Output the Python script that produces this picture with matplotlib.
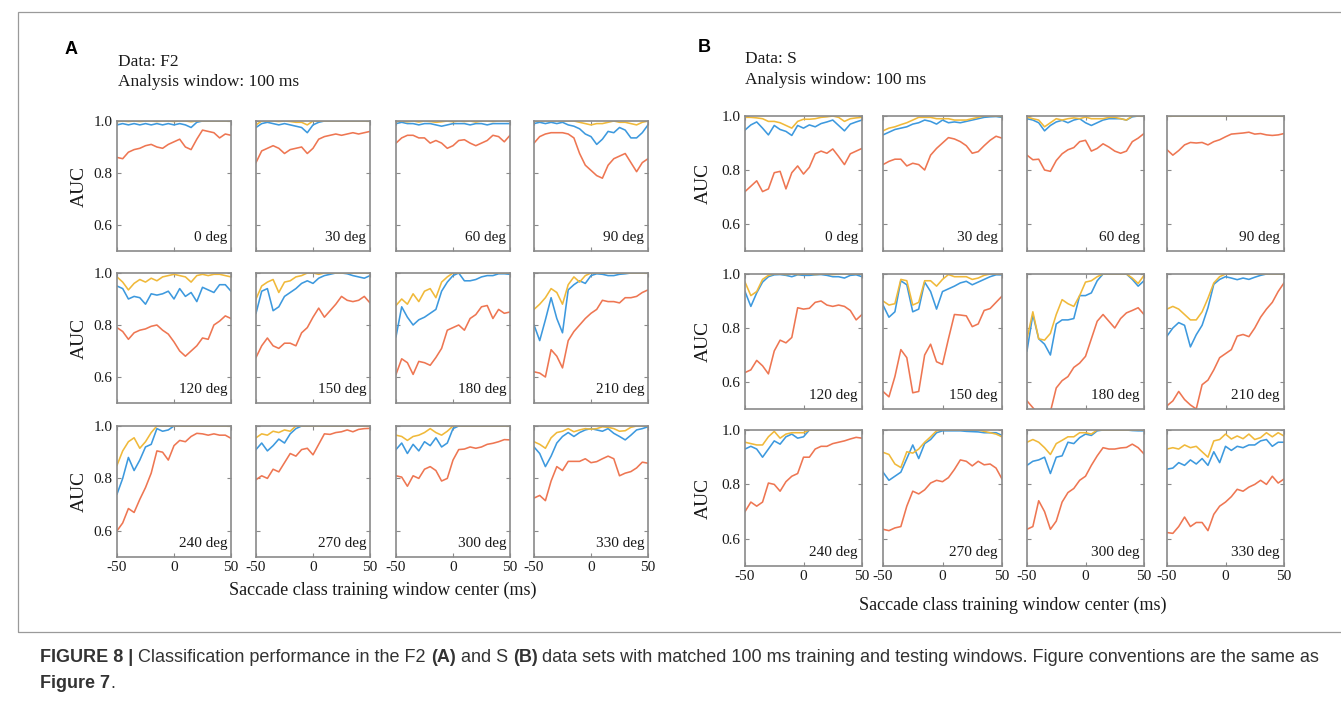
import matplotlib
matplotlib.use('Agg')
import matplotlib.pyplot as plt
from matplotlib.patches import Rectangle

plt.rcParams['font.family'] = ['Liberation Serif', 'DejaVu Serif']

# window centres (ms)
t_ms = [-50, -45, -40, -35, -30, -25, -20, -15, -10, -5, 0,
        5, 10, 15, 20, 25, 30, 35, 40, 45, 50]
angles = [0, 30, 60, 90, 120, 150, 180, 210, 240, 270, 300, 330]

# ---- panel A, data F2 (one row per angle) ----
f2_orange = [
    [0.86, 0.855, 0.88, 0.89, 0.895, 0.905, 0.91, 0.90, 0.895, 0.91, 0.92, 0.93, 0.90, 0.89, 0.93, 0.965, 0.96, 0.955, 0.935, 0.95, 0.945],
    [0.84, 0.885, 0.895, 0.905, 0.895, 0.875, 0.89, 0.895, 0.90, 0.875, 0.895, 0.93, 0.94, 0.945, 0.95, 0.945, 0.95, 0.955, 0.95, 0.955, 0.96],
    [0.915, 0.935, 0.945, 0.945, 0.935, 0.935, 0.915, 0.925, 0.915, 0.895, 0.905, 0.925, 0.928, 0.915, 0.905, 0.915, 0.925, 0.945, 0.94, 0.92, 0.945],
    [0.915, 0.94, 0.95, 0.955, 0.955, 0.955, 0.95, 0.935, 0.875, 0.83, 0.81, 0.79, 0.78, 0.83, 0.855, 0.865, 0.875, 0.84, 0.805, 0.84, 0.855],
    [0.79, 0.775, 0.745, 0.77, 0.78, 0.785, 0.795, 0.80, 0.78, 0.765, 0.735, 0.70, 0.68, 0.70, 0.72, 0.75, 0.745, 0.80, 0.815, 0.835, 0.825],
    [0.675, 0.72, 0.75, 0.72, 0.71, 0.73, 0.73, 0.72, 0.77, 0.79, 0.83, 0.865, 0.83, 0.855, 0.88, 0.91, 0.895, 0.89, 0.895, 0.91, 0.885],
    [0.61, 0.67, 0.655, 0.61, 0.66, 0.655, 0.645, 0.675, 0.71, 0.78, 0.79, 0.80, 0.78, 0.825, 0.84, 0.87, 0.875, 0.825, 0.86, 0.845, 0.85],
    [0.62, 0.615, 0.60, 0.705, 0.68, 0.635, 0.74, 0.775, 0.80, 0.825, 0.845, 0.86, 0.895, 0.89, 0.89, 0.885, 0.905, 0.905, 0.91, 0.925, 0.935],
    [0.60, 0.63, 0.685, 0.67, 0.72, 0.765, 0.82, 0.905, 0.90, 0.87, 0.925, 0.945, 0.94, 0.96, 0.972, 0.97, 0.965, 0.97, 0.965, 0.965, 0.953],
    [0.795, 0.81, 0.80, 0.835, 0.825, 0.86, 0.895, 0.885, 0.91, 0.915, 0.89, 0.93, 0.97, 0.968, 0.975, 0.978, 0.985, 0.978, 0.987, 0.99, 0.991],
    [0.81, 0.805, 0.77, 0.81, 0.80, 0.835, 0.845, 0.83, 0.79, 0.80, 0.87, 0.91, 0.912, 0.92, 0.915, 0.92, 0.93, 0.934, 0.94, 0.948, 0.947],
    [0.725, 0.735, 0.715, 0.79, 0.845, 0.83, 0.865, 0.865, 0.865, 0.875, 0.86, 0.864, 0.875, 0.885, 0.875, 0.81, 0.82, 0.826, 0.84, 0.862, 0.858],
]
f2_blue = [
    [0.985, 0.99, 0.985, 0.99, 0.985, 0.99, 0.985, 0.99, 0.985, 0.99, 0.985, 0.99, 0.985, 0.975, 0.995, 1.0, 1.0, 1.0, 1.0, 1.0, 1.0],
    [0.975, 0.99, 0.995, 0.99, 0.985, 0.99, 0.985, 0.98, 0.975, 0.955, 0.985, 0.995, 1.0, 1.0, 1.0, 1.0, 1.0, 1.0, 1.0, 1.0, 1.0],
    [0.99, 0.995, 0.99, 0.99, 0.985, 0.99, 0.99, 0.985, 0.98, 0.985, 0.99, 0.99, 0.99, 0.985, 0.99, 0.99, 0.985, 0.99, 0.99, 0.99, 0.99],
    [0.99, 0.995, 0.99, 0.995, 0.99, 0.995, 0.985, 0.98, 0.97, 0.95, 0.94, 0.91, 0.93, 0.96, 0.955, 0.975, 0.965, 0.935, 0.935, 0.955, 0.985],
    [0.95, 0.94, 0.90, 0.91, 0.905, 0.88, 0.92, 0.915, 0.92, 0.93, 0.90, 0.94, 0.91, 0.925, 0.89, 0.945, 0.935, 0.925, 0.955, 0.955, 0.93],
    [0.845, 0.93, 0.94, 0.855, 0.87, 0.91, 0.925, 0.94, 0.96, 0.97, 0.96, 0.98, 0.99, 0.995, 1.0, 1.0, 0.997, 0.99, 0.985, 0.98, 0.99],
    [0.755, 0.87, 0.83, 0.80, 0.82, 0.83, 0.845, 0.86, 0.93, 0.965, 0.99, 1.0, 0.97, 0.97, 0.975, 0.985, 0.99, 0.99, 0.997, 0.997, 0.995],
    [0.80, 0.74, 0.82, 0.905, 0.825, 0.77, 0.935, 0.955, 0.97, 0.96, 0.99, 0.997, 0.995, 0.99, 0.99, 0.995, 0.997, 1.0, 1.0, 1.0, 1.0],
    [0.74, 0.80, 0.88, 0.83, 0.87, 0.92, 0.93, 0.99, 0.98, 0.985, 1.0, 1.0, 1.0, 1.0, 1.0, 1.0, 1.0, 1.0, 1.0, 1.0, 1.0],
    [0.91, 0.935, 0.905, 0.925, 0.95, 0.935, 0.97, 0.99, 1.0, 1.0, 1.0, 1.0, 1.0, 1.0, 1.0, 1.0, 1.0, 1.0, 1.0, 1.0, 1.0],
    [0.91, 0.935, 0.895, 0.93, 0.905, 0.94, 0.925, 0.955, 0.92, 0.935, 0.99, 1.0, 1.0, 1.0, 1.0, 1.0, 1.0, 1.0, 1.0, 1.0, 1.0],
    [0.92, 0.895, 0.845, 0.885, 0.935, 0.96, 0.975, 0.96, 0.975, 0.985, 0.99, 0.985, 0.98, 0.99, 0.972, 0.96, 0.947, 0.965, 0.985, 0.99, 0.997],
]
f2_yellow = [
    [0.998, 1.0, 0.998, 1.0, 0.998, 1.0, 1.0, 0.998, 1.0, 1.0, 0.998, 1.0, 1.0, 0.997, 1.0, 1.0, 1.0, 1.0, 1.0, 1.0, 1.0],
    [0.985, 1.0, 1.0, 1.0, 0.998, 1.0, 0.998, 0.995, 0.995, 0.985, 1.0, 1.0, 1.0, 1.0, 1.0, 1.0, 1.0, 1.0, 1.0, 1.0, 1.0],
    [0.998, 1.0, 0.997, 1.0, 0.996, 1.0, 0.998, 0.995, 0.997, 1.0, 0.997, 1.0, 0.998, 1.0, 0.996, 1.0, 1.0, 0.998, 1.0, 1.0, 1.0],
    [1.0, 1.0, 1.0, 1.0, 1.0, 1.0, 1.0, 1.0, 0.995, 0.99, 0.985, 0.99, 0.99, 0.995, 1.0, 0.995, 0.995, 0.99, 0.985, 0.995, 1.0],
    [0.985, 0.965, 0.935, 0.96, 0.975, 0.965, 0.98, 0.97, 0.985, 0.99, 0.995, 0.99, 0.985, 0.965, 0.99, 0.995, 0.99, 0.995, 0.995, 0.99, 0.985],
    [0.90, 0.95, 0.965, 0.975, 0.925, 0.965, 0.97, 0.985, 0.99, 1.0, 1.0, 0.995, 1.0, 1.0, 1.0, 1.0, 1.0, 1.0, 1.0, 1.0, 1.0],
    [0.875, 0.90, 0.88, 0.92, 0.89, 0.93, 0.94, 0.905, 0.965, 0.985, 1.0, 1.0, 1.0, 1.0, 1.0, 1.0, 1.0, 1.0, 1.0, 1.0, 1.0],
    [0.86, 0.88, 0.905, 0.94, 0.925, 0.88, 0.955, 0.985, 0.965, 0.99, 1.0, 1.0, 1.0, 1.0, 1.0, 1.0, 1.0, 1.0, 1.0, 1.0, 1.0],
    [0.85, 0.905, 0.94, 0.955, 0.915, 0.94, 0.975, 1.0, 1.0, 1.0, 1.0, 1.0, 1.0, 1.0, 1.0, 1.0, 1.0, 1.0, 1.0, 1.0, 1.0],
    [0.955, 0.97, 0.965, 0.98, 0.975, 0.985, 0.98, 1.0, 1.0, 1.0, 1.0, 1.0, 1.0, 1.0, 1.0, 1.0, 1.0, 1.0, 1.0, 1.0, 1.0],
    [0.965, 0.96, 0.945, 0.96, 0.965, 0.975, 0.99, 0.975, 0.965, 0.98, 1.0, 1.0, 1.0, 1.0, 1.0, 1.0, 1.0, 1.0, 1.0, 1.0, 1.0],
    [0.94, 0.93, 0.915, 0.955, 0.975, 0.98, 0.99, 0.978, 0.985, 0.99, 0.988, 0.99, 0.997, 0.995, 0.99, 0.98, 0.982, 0.995, 1.0, 1.0, 1.0],
]

# ---- panel B, data S ----
s_orange = [
    [0.72, 0.74, 0.76, 0.72, 0.73, 0.79, 0.795, 0.73, 0.79, 0.815, 0.785, 0.81, 0.86, 0.87, 0.862, 0.878, 0.85, 0.82, 0.86, 0.87, 0.88],
    [0.82, 0.832, 0.84, 0.84, 0.815, 0.825, 0.82, 0.80, 0.855, 0.88, 0.90, 0.92, 0.915, 0.905, 0.89, 0.862, 0.868, 0.89, 0.91, 0.925, 0.918],
    [0.855, 0.838, 0.84, 0.80, 0.795, 0.835, 0.86, 0.875, 0.883, 0.905, 0.91, 0.87, 0.88, 0.897, 0.885, 0.87, 0.862, 0.87, 0.905, 0.918, 0.935],
    [0.875, 0.855, 0.872, 0.893, 0.902, 0.90, 0.902, 0.893, 0.905, 0.912, 0.923, 0.933, 0.935, 0.937, 0.94, 0.933, 0.935, 0.93, 0.928, 0.93, 0.935],
    [0.635, 0.645, 0.68, 0.66, 0.63, 0.715, 0.755, 0.745, 0.765, 0.875, 0.87, 0.873, 0.895, 0.90, 0.885, 0.88, 0.885, 0.88, 0.865, 0.83, 0.85],
    [0.565, 0.545, 0.62, 0.72, 0.69, 0.56, 0.565, 0.70, 0.74, 0.675, 0.665, 0.76, 0.85, 0.848, 0.845, 0.805, 0.815, 0.865, 0.872, 0.895, 0.918],
    [0.53, 0.505, 0.48, 0.47, 0.49, 0.578, 0.605, 0.62, 0.654, 0.67, 0.695, 0.76, 0.825, 0.85, 0.825, 0.80, 0.835, 0.856, 0.865, 0.875, 0.85],
    [0.512, 0.53, 0.565, 0.535, 0.515, 0.50, 0.59, 0.607, 0.645, 0.69, 0.705, 0.72, 0.77, 0.776, 0.768, 0.80, 0.84, 0.87, 0.895, 0.935, 0.967],
    [0.70, 0.735, 0.72, 0.735, 0.805, 0.80, 0.775, 0.81, 0.83, 0.84, 0.90, 0.90, 0.93, 0.94, 0.94, 0.95, 0.955, 0.96, 0.967, 0.973, 0.97],
    [0.635, 0.63, 0.64, 0.645, 0.72, 0.775, 0.765, 0.78, 0.805, 0.815, 0.81, 0.825, 0.855, 0.89, 0.885, 0.868, 0.885, 0.872, 0.875, 0.86, 0.82],
    [0.635, 0.645, 0.74, 0.70, 0.635, 0.665, 0.735, 0.77, 0.785, 0.815, 0.83, 0.87, 0.905, 0.935, 0.93, 0.93, 0.934, 0.936, 0.948, 0.935, 0.912],
    [0.623, 0.62, 0.645, 0.68, 0.645, 0.66, 0.66, 0.63, 0.69, 0.72, 0.735, 0.755, 0.782, 0.775, 0.79, 0.80, 0.815, 0.80, 0.83, 0.805, 0.82],
]
s_blue = [
    [0.948, 0.967, 0.978, 0.955, 0.93, 0.965, 0.95, 0.943, 0.928, 0.965, 0.955, 0.967, 0.96, 0.972, 0.978, 0.985, 0.965, 0.945, 0.97, 0.978, 0.985],
    [0.93, 0.94, 0.95, 0.955, 0.96, 0.97, 0.975, 0.985, 0.98, 0.97, 0.985, 0.975, 0.978, 0.975, 0.98, 0.985, 0.99, 0.995, 0.997, 0.998, 0.995],
    [0.99, 0.985, 0.975, 0.945, 0.965, 0.978, 0.984, 0.975, 0.985, 0.99, 0.975, 0.965, 0.975, 0.985, 0.99, 0.99, 0.99, 0.985, 0.997, 1.0, 1.0],
    [1.0, 1.0, 1.0, 1.0, 1.0, 1.0, 1.0, 1.0, 1.0, 1.0, 1.0, 1.0, 1.0, 1.0, 1.0, 1.0, 1.0, 1.0, 1.0, 1.0, 1.0],
    [0.935, 0.88, 0.93, 0.97, 0.99, 0.997, 0.998, 0.995, 0.99, 0.997, 0.995, 0.995, 0.997, 0.998, 0.995, 0.99, 0.99, 0.985, 0.995, 0.997, 0.99],
    [0.885, 0.84, 0.86, 0.975, 0.96, 0.86, 0.87, 0.97, 0.935, 0.87, 0.935, 0.945, 0.955, 0.967, 0.973, 0.96, 0.97, 0.98, 0.99, 0.997, 0.997],
    [0.715, 0.85, 0.76, 0.74, 0.70, 0.815, 0.83, 0.83, 0.835, 0.92, 0.92, 0.93, 0.975, 1.0, 1.0, 1.0, 1.0, 1.0, 0.98, 0.955, 0.975],
    [0.77, 0.80, 0.82, 0.81, 0.73, 0.775, 0.81, 0.875, 0.962, 0.98, 0.99, 0.985, 0.979, 0.985, 0.98, 0.988, 0.995, 1.0, 1.0, 1.0, 1.0],
    [0.93, 0.94, 0.93, 0.90, 0.93, 0.96, 0.948, 0.975, 0.985, 0.97, 0.975, 1.0, 1.0, 1.0, 1.0, 1.0, 1.0, 1.0, 1.0, 1.0, 1.0],
    [0.845, 0.815, 0.83, 0.845, 0.895, 0.945, 0.895, 0.95, 0.965, 0.99, 0.997, 0.997, 0.997, 0.997, 0.995, 0.994, 0.993, 0.99, 0.99, 0.99, 0.98],
    [0.87, 0.885, 0.89, 0.90, 0.84, 0.90, 0.905, 0.955, 0.95, 0.972, 0.985, 0.98, 0.997, 1.0, 1.0, 1.0, 1.0, 1.0, 0.998, 0.997, 0.997],
    [0.856, 0.86, 0.88, 0.87, 0.89, 0.875, 0.895, 0.87, 0.92, 0.88, 0.94, 0.925, 0.94, 0.935, 0.945, 0.945, 0.96, 0.965, 0.94, 0.955, 0.955],
]
s_yellow = [
    [0.995, 0.995, 0.993, 0.99, 0.98, 0.98, 0.975, 0.965, 0.955, 0.98, 0.988, 0.988, 0.99, 0.995, 0.997, 1.0, 0.995, 0.98, 0.99, 0.993, 0.995],
    [0.945, 0.955, 0.96, 0.968, 0.975, 0.985, 0.995, 0.995, 0.995, 0.99, 0.99, 0.99, 0.985, 0.985, 0.985, 0.99, 0.995, 1.0, 1.0, 1.0, 0.998],
    [0.996, 0.99, 0.985, 0.96, 0.975, 0.99, 0.985, 0.99, 0.993, 0.99, 0.996, 0.99, 0.99, 0.99, 0.995, 0.995, 0.99, 0.985, 1.0, 1.0, 1.0],
    [1.0, 1.0, 1.0, 1.0, 1.0, 1.0, 1.0, 1.0, 1.0, 1.0, 1.0, 1.0, 1.0, 1.0, 1.0, 1.0, 1.0, 1.0, 1.0, 1.0, 1.0],
    [0.97, 0.92, 0.935, 0.98, 0.995, 1.0, 1.0, 0.998, 1.0, 0.998, 1.0, 1.0, 0.998, 1.0, 1.0, 0.998, 1.0, 1.0, 1.0, 1.0, 1.0],
    [0.90, 0.885, 0.89, 0.98, 0.975, 0.885, 0.895, 0.975, 0.975, 0.955, 0.98, 0.998, 0.99, 0.99, 0.99, 0.98, 0.985, 0.995, 1.0, 1.0, 1.0],
    [0.76, 0.86, 0.76, 0.755, 0.78, 0.85, 0.905, 0.89, 0.88, 0.92, 0.97, 0.975, 0.99, 1.0, 1.0, 1.0, 1.0, 1.0, 0.985, 0.965, 0.995],
    [0.87, 0.88, 0.87, 0.85, 0.83, 0.83, 0.86, 0.91, 0.967, 0.99, 1.0, 1.0, 1.0, 1.0, 1.0, 1.0, 1.0, 1.0, 1.0, 1.0, 1.0],
    [0.955, 0.95, 0.945, 0.945, 0.975, 0.995, 0.97, 0.985, 0.99, 0.99, 0.99, 1.0, 1.0, 1.0, 1.0, 1.0, 1.0, 1.0, 1.0, 1.0, 1.0],
    [0.918, 0.91, 0.875, 0.862, 0.92, 0.915, 0.93, 0.955, 0.975, 0.997, 1.0, 1.0, 1.0, 1.0, 1.0, 1.0, 1.0, 0.995, 0.99, 0.985, 0.975],
    [0.955, 0.965, 0.955, 0.935, 0.91, 0.95, 0.962, 0.975, 0.975, 0.99, 0.99, 0.985, 1.0, 1.0, 1.0, 1.0, 1.0, 1.0, 1.0, 1.0, 1.0],
    [0.93, 0.935, 0.93, 0.945, 0.935, 0.94, 0.92, 0.90, 0.96, 0.965, 0.985, 0.967, 0.978, 0.968, 0.985, 0.965, 0.972, 0.99, 0.975, 0.99, 0.978],
]

C_BLUE = '#3d99de'
C_YELLOW = '#f0b93a'
C_ORANGE = '#ee7652'
GRAY = '#8a8a8a'
INK = '#1a1a1a'

W, H = 1341, 712
fig = plt.figure(figsize=(W / 100, H / 100), dpi=100)
fig.patch.set_facecolor('white')

# thin frame around the figure area
fig.patches.append(Rectangle((18 / W, 1 - 632 / H), 1.2, (632 - 12) / H,
                             transform=fig.transFigure, fill=False,
                             edgecolor='#9a9a9a', linewidth=0.9))


def px_axes(x0, x1, y0, y1):
    return fig.add_axes([x0 / W, 1 - y1 / H, (x1 - x0) / W, (y1 - y0) / H])


def draw_panel(cols, rows, yellow, blue, orange, ylab_x):
    for i, ang in enumerate(angles):
        r, c = divmod(i, 4)
        ax = px_axes(cols[c][0], cols[c][1], rows[r][0], rows[r][1])
        ax.plot(t_ms, orange[i], color=C_ORANGE, lw=1.15)
        ax.plot(t_ms, blue[i], color=C_BLUE, lw=1.15)
        ax.plot(t_ms, yellow[i], color=C_YELLOW, lw=1.15)
        ax.set_xlim(-50, 50)
        ax.set_ylim(0.5, 1.0)
        ax.set_xticks([-50, 0, 50])
        ax.set_yticks([0.6, 0.8, 1.0])
        ax.tick_params(direction='in', top=True, right=True, length=3,
                       width=0.8, color=GRAY, labelsize=11,
                       labelcolor=INK, pad=3)
        for s in ax.spines.values():
            s.set_color(GRAY)
            s.set_linewidth(1.2)
        if c == 0:
            ax.set_yticklabels(['0.6', '0.8', '1.0'])
            ax.set_ylabel('AUC', fontsize=14, color=INK)
            ax.yaxis.set_label_coords(ylab_x, 0.5)
        else:
            ax.set_yticklabels([])
        if r == 2:
            ax.set_xticklabels(['-50', '0', '50'])
        else:
            ax.set_xticklabels([])
        ax.text(0.965, 0.075, f'{ang} deg', transform=ax.transAxes,
                ha='right', va='baseline', fontsize=11, color=INK)


a_cols = [(117, 231), (256, 370), (396, 510), (534, 648)]
a_rows = [(121, 251), (273, 403), (426, 557)]
b_cols = [(745, 862), (883, 1002), (1027, 1144), (1167, 1284)]
b_rows = [(116, 251), (274, 409), (430, 566)]

draw_panel(a_cols, a_rows, f2_yellow, f2_blue, f2_orange, -0.26)
draw_panel(b_cols, b_rows, s_yellow, s_blue, s_orange, -0.28)

# panel headers
fig.text(71 / W, 1 - 50 / H, 'A', fontsize=13, fontweight='bold',
         family=['Liberation Sans', 'DejaVu Sans'], ha='center', va='center')
fig.text(704 / W, 1 - 47 / H, 'B', fontsize=13, fontweight='bold',
         family=['Liberation Sans', 'DejaVu Sans'], ha='center', va='center')
fig.text(118 / W, 1 - 62 / H, 'Data: F2', fontsize=12.5, va='center', color=INK)
fig.text(118 / W, 1 - 82 / H, 'Analysis window: 100 ms', fontsize=12.5, va='center', color=INK)
fig.text(745 / W, 1 - 59 / H, 'Data: S', fontsize=12.5, va='center', color=INK)
fig.text(745 / W, 1 - 80 / H, 'Analysis window: 100 ms', fontsize=12.5, va='center', color=INK)

fig.text(383 / W, 1 - 590 / H, 'Saccade class training window center (ms)',
         fontsize=13, ha='center', va='center', color=INK)
fig.text(1013 / W, 1 - 605 / H, 'Saccade class training window center (ms)',
         fontsize=13, ha='center', va='center', color=INK)

# caption with mixed bold / regular runs
cap_font = ['Liberation Sans Narrow', 'Liberation Sans', 'DejaVu Sans']
line1 = [('FIGURE 8 |', 'bold'),
         (' Classification performance in the F2 ', 'normal'),
         ('(A)', 'bold'), (' and S ', 'normal'), ('(B)', 'bold'),
         (' data sets with matched 100 ms training and testing windows. '
          'Figure conventions are the same as', 'normal')]
line2 = [('Figure 7', 'bold'), ('.', 'normal')]

renderer = fig.canvas.get_renderer()


def run_width(runs, size):
    total = 0
    for s, w in runs:
        t = fig.text(0, 0, s, fontsize=size, fontweight=w, family=cap_font)
        total += t.get_window_extent(renderer).width
        t.remove()
    return total


cap_size = 10.0 * (1322 - 40) / run_width(line1, 10.0)


def draw_runs(x_px, y_px, runs, size):
    x = x_px
    for s, w in runs:
        t = fig.text(x / W, 1 - y_px / H, s, fontsize=size, fontweight=w,
                     family=cap_font, va='center', color='#333333')
        x += t.get_window_extent(renderer).width


draw_runs(40, 658, line1, cap_size)
draw_runs(40, 684, line2, cap_size)

fig.savefig('out.png', dpi=100, facecolor='white')
